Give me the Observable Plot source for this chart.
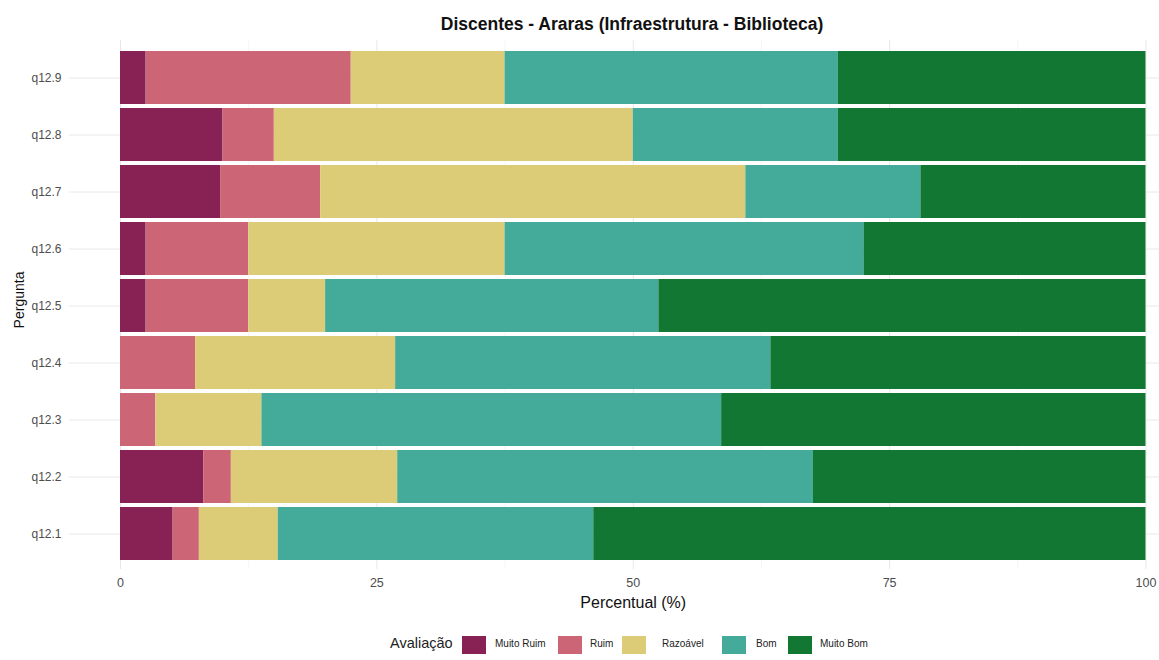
<!DOCTYPE html>
<html>
<head>
<meta charset="utf-8">
<script src="https://cdn.jsdelivr.net/npm/d3@7"></script>
<script src="https://cdn.jsdelivr.net/npm/@observablehq/plot@0.6"></script>
<style>
  html, body { margin: 0; padding: 0; background: #fff; }
  body { width: 1159px; height: 660px; position: relative; overflow: hidden; font-family: "Liberation Sans", Arial, sans-serif; }
  #title { position: absolute; left: 0; top: 0; width: 1159px; height: 40px; }
  #title span { position: absolute; left: 632px; top: 14px; transform: translateX(-50%); font-size: 17.5px; font-weight: bold; color: #111; white-space: nowrap; }
  #chart { position: absolute; left: 0; top: 40px; }
  #legend { position: absolute; left: 0; top: 625px; width: 1159px; height: 35px; }
  #legend .t { position: absolute; white-space: nowrap; color: #222; }
  #legend .sw { position: absolute; width: 24px; height: 18px; }
</style>
</head>
<body>
<div id="title"><span>Discentes - Araras (Infraestrutura - Biblioteca)</span></div>
<div id="chart"></div>
<div id="legend"></div>
<script>
// ---- data ----
const categories = ["q12.1", "q12.2", "q12.3", "q12.4", "q12.5", "q12.6", "q12.7", "q12.8", "q12.9"];
const ratings = ["Muito Ruim", "Ruim", "Razoável", "Bom", "Muito Bom"];
const muitoRuim = [5.13, 8.11, 0, 0, 2.5, 2.5, 9.76, 10, 2.5];
const ruim      = [2.56, 2.70, 3.45, 7.32, 10, 10, 9.76, 5, 20];
const razoavel  = [7.69, 16.22, 10.34, 19.51, 7.5, 25, 41.46, 35, 15];
const bom       = [30.77, 40.54, 44.83, 36.59, 32.5, 35, 17.07, 20, 32.5];
const muitoBom  = [53.85, 32.43, 41.38, 36.59, 47.5, 27.5, 21.95, 30, 30];
const xTicks = [0, 25, 50, 75, 100];
const colors = ["#882255", "#CC6677", "#DDCC77", "#44AA99", "#117733"];

// ---- table ----
const series = [muitoRuim, ruim, razoavel, bom, muitoBom];
const table = [];
ratings.forEach((r, i) => {
  categories.forEach((q, j) => {
    table.push({q, aval: r, value: series[i][j]});
  });
});
const minorTicks = xTicks.slice(1).map((t, i) => (t + xTicks[i]) / 2);

const chart = Plot.plot({
  width: 1159,
  height: 585,
  marginLeft: 120,
  marginRight: 13.5,
  marginTop: 0,
  marginBottom: 56,
  style: {fontFamily: "'Liberation Sans', Arial, sans-serif", background: "white", overflow: "hidden"},
  x: {domain: [0, 100], range: [120, 1145.5]},
  y: {domain: categories.slice().reverse(), range: [6.8, 523.4], paddingInner: 0.077, paddingOuter: 0.0385},
  color: {domain: ratings, range: colors},
  marks: [
    Plot.ruleX(minorTicks, {stroke: "#f0f0f0", strokeWidth: 0.7}),
    Plot.ruleX(xTicks, {stroke: "#e8e8e8", strokeWidth: 1}),
    Plot.ruleY(categories, {y: d => d, x1: -5, x2: 105, stroke: "#e8e8e8", strokeWidth: 1}),
    Plot.barX(table, {x: "value", y: "q", fill: "aval"}),
    Plot.axisX(xTicks, {tickSize: 0, tickPadding: 9, fontSize: 12.5, fill: "#4d4d4d", label: null}),
    Plot.axisY({tickSize: 0, tickPadding: 59, fontSize: 12, fill: "#4d4d4d", label: null}),
    Plot.text(["Percentual (%)"], {frameAnchor: "bottom", dy: 38, fontSize: 16, fill: "#111"}),
    Plot.text(["Pergunta"], {frameAnchor: "left", textAnchor: "middle", dx: -101, dy: -5, rotate: -90, fontSize: 14, fill: "#111"})
  ]
});
document.getElementById("chart").appendChild(chart);

// ---- legend ----
const legend = document.getElementById("legend");
const head = document.createElement("span");
head.className = "t";
head.textContent = "Avaliação";
head.style.left = "390px";
head.style.top = "10px";
head.style.fontSize = "14.5px";
legend.appendChild(head);
const swLeft = [462, 558, 622, 722, 788];
const txLeft = [495, 590, 662, 756, 820];
ratings.forEach((r, i) => {
  const sw = document.createElement("div");
  sw.className = "sw";
  sw.style.left = swLeft[i] + "px";
  sw.style.top = "11px";
  sw.style.background = colors[i];
  legend.appendChild(sw);
  const t = document.createElement("span");
  t.className = "t";
  t.textContent = r;
  t.style.left = txLeft[i] + "px";
  t.style.top = "13px";
  t.style.fontSize = "10px";
  legend.appendChild(t);
});
</script>
</body>
</html>
